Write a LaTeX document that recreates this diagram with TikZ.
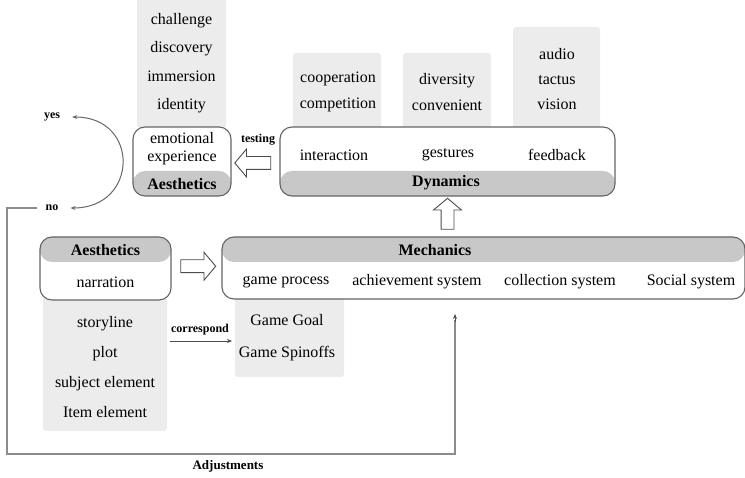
\documentclass[tikz,border=0pt]{standalone}
\usepackage{fontspec}
\setmainfont{Liberation Serif}
\usetikzlibrary{shapes.arrows,arrows.meta,positioning,calc}
\definecolor{colgray}{RGB}{236,236,236}
\definecolor{bandgray}{RGB}{200,200,200}
\definecolor{framegray}{RGB}{100,100,100}
\definecolor{linegray}{RGB}{140,140,140}

\tikzset{
    frame/.style={rectangle, draw=framegray, line width=1.1pt, rounded corners=12pt, fill=white, inner sep=0pt},
    lowband/.style={path picture={\fill[bandgray] (path picture bounding box.south west) rectangle ([yshift=#1]path picture bounding box.south east);}},
    topband/.style={path picture={\fill[bandgray] (path picture bounding box.north west) rectangle ([yshift=-#1]path picture bounding box.north east);}},
    column/.style={rectangle, fill=colgray, rounded corners=3pt, inner sep=0pt},
    item/.style={font=\fontsize{16}{19}\selectfont, align=center, inner sep=0pt},
    head/.style={font=\fontsize{16}{19}\selectfont\bfseries, inner sep=0pt},
    tag/.style={font=\fontsize{12}{14}\selectfont\bfseries, inner sep=0pt},
    hollow/.style={single arrow, draw=black!70, line width=0.9pt, fill=white, inner sep=6pt,
        single arrow head extend=7.5pt, single arrow tip angle=100},
    feedline/.style={draw=linegray, line width=1.3pt},
    tip/.style={-{Stealth[length=5pt,width=4pt]}}
}

\begin{document}
\begin{tikzpicture}[x=1pt, y=-1pt]
    \useasboundingbox (0,0) rectangle (745,478);

    % Columns
    \node[column, minimum width=89pt, minimum height=138pt] (aesCol) at (181.5,59) {};
    \node[column, minimum width=88pt, minimum height=80pt] (coopCol) at (337,93) {};
    \node[column, minimum width=88pt, minimum height=80pt] (divCol) at (447,93) {};
    \node[column, minimum width=87pt, minimum height=106pt] (senseCol) at (556.5,80) {};
    \node[column, minimum width=124pt, minimum height=134pt] (storyCol) at (105,364) {};
    \node[column, minimum width=109pt, minimum height=80pt] (goalCol) at (289.5,337) {};

    \node[item, font=\fontsize{16}{28.5}\selectfont] (aesList) at (181.5,63) {challenge\\discovery\\immersion\\identity};
    \node[item, font=\fontsize{16}{26}\selectfont] (coopList) at (338,92) {cooperation\\competition};
    \node[item, font=\fontsize{16}{26}\selectfont] (divList) at (447,92) {diversity\\convenient};
    \node[item, font=\fontsize{16}{25}\selectfont] (senseList) at (557,79.5) {audio\\tactus\\vision};
    \node[item, font=\fontsize{16}{29.8}\selectfont] (storyList) at (105,367) {storyline\\plot\\subject element\\Item element};
    \node[item, font=\fontsize{16}{32}\selectfont] (goalList) at (287,338) {Game Goal\\Game Spinoffs};

    % Aesthetics (top)
    \node[frame, lowband=25pt, minimum width=98pt, minimum height=69pt] (aesTop) at (182,161.5) {};
    \node[item, font=\fontsize{16}{18}\selectfont] (emotion) at (182,149) {emotional\\experience};
    \node[head] (aesTopHead) at (182,184) {Aesthetics};

    % Dynamics
    \node[frame, lowband=25pt, minimum width=335pt, minimum height=69pt] (dyn) at (447.5,161.5) {};
    \node[item] (interaction) at (334,155) {interaction};
    \node[item] (gestures) at (448,155) {gestures};
    \node[item] (feedback) at (557,155) {feedback};
    \node[head] (dynHead) at (446,183) {Dynamics};

    % Aesthetics (bottom)
    \node[frame, topband=25pt, minimum width=131pt, minimum height=63pt] (aesLow) at (105.5,268.5) {};
    \node[head] (aesLowHead) at (105.5,250) {Aesthetics};
    \node[item] (narration) at (105.5,282) {narration};

    % Mechanics
    \node[frame, topband=25pt, minimum width=523pt, minimum height=62pt] (mech) at (483.5,268) {};
    \node[head] (mechHead) at (435,250) {Mechanics};
    \node[item] (process) at (286,282) {game process};
    \node[item] (achieve) at (417,282) {achievement system};
    \node[item] (collect) at (560,282) {collection system};
    \node[item] (social) at (691,282) {Social system};

    % Hollow arrows
    \node[hollow, shape border rotate=180, minimum height=36pt] (testArrow) at ($(aesTop.east)!0.5!(dyn.west)+(0,1.5)$) {};
    \node[hollow, shape border rotate=0, minimum height=35pt] (mapArrow) at ($(aesLow.east)!0.5!(mech.west)+(-1,-2)$) {};
    \node[hollow, shape border rotate=90, minimum height=31pt] (upArrow) at ($(dyn.south)!0.5!(dyn.south |- mech.north)$) {};

    % Labels
    \node[tag] (testing) at (258,140) {testing};
    \node[tag] (correspond) at (200,330) {correspond};
    \node[tag] (yes) at (52,117) {yes};
    \node[tag] (no) at (52,208) {no};
    \node[tag, font=\fontsize{13}{15}\selectfont\bfseries] (adjust) at (228,466) {Adjustments};

    % Connectors
    \coordinate (corrStart) at (170,341);
    \coordinate (corrEnd) at (232,341);
    \coordinate (adjTip) at (455,314);
    \draw[draw=black!70, line width=0.9pt, tip] (corrStart) -- (corrEnd);
    \draw[draw=black!60, line width=1pt, {Stealth[length=5pt,width=4pt]}-{Stealth[length=5pt,width=4pt]}]
        ([xshift=12pt]yes.east) .. controls +(68,0) and +(68,0) .. ([xshift=12pt]no.east);
    \draw[feedline] ([xshift=-8pt]no.west) -| (7,454) -| ($(adjTip)+(0,6)$);
    \draw[draw=black!70, line width=1pt, tip] ($(adjTip)+(0,8)$) -- (adjTip);
\end{tikzpicture}
\end{document}
